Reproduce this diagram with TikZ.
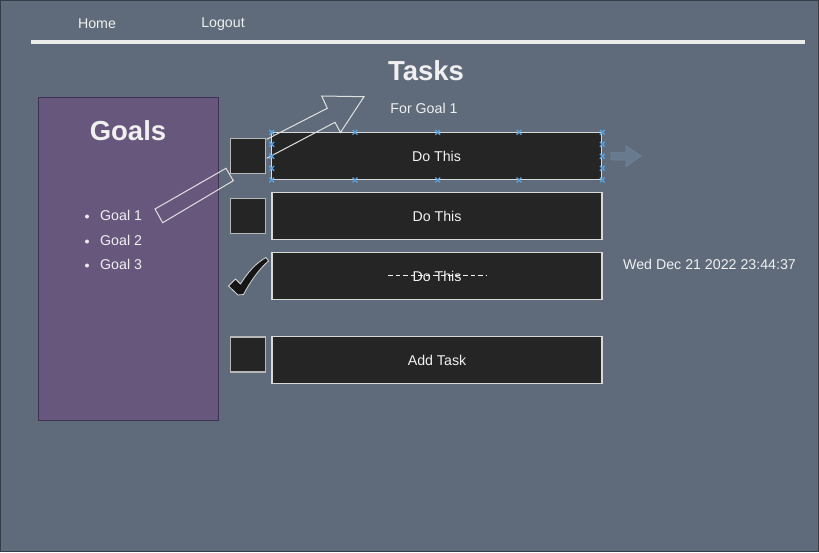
\documentclass[tikz,border=0pt]{standalone}
\usepackage{fontspec}
\setmainfont{Liberation Sans}
\begin{document}
\begin{tikzpicture}[x=1pt,y=-1pt,
  txt/.style={text=white!94!black, inner sep=0pt, font=\fontsize{14.2}{16}\selectfont},
  big/.style={text=white!94!black, inner sep=0pt, font=\fontsize{27.5}{30}\selectfont\bfseries},
  taskbar/.style={draw=white!85!black, line width=1.2pt, fill=barfill, minimum width=330pt, minimum height=47pt, inner sep=0pt, text=white!95!black, font=\fontsize{14.2}{16}\selectfont},
  chkbox/.style={draw=white!72!black, line width=1.2pt, fill=barfill, minimum width=35pt, minimum height=35pt, inner sep=0pt},
  handle/.style={draw=handleblue, line width=1.3pt},
  outl/.style={draw=white!88!black, line width=1pt, line join=miter}
]
\definecolor{bgcol}{HTML}{5F6B7A}
\definecolor{framecol}{HTML}{343D48}
\definecolor{goalfill}{HTML}{67577D}
\definecolor{goaldraw}{HTML}{3E3152}
\definecolor{barfill}{HTML}{252525}
\definecolor{checkfill}{HTML}{151515}
\definecolor{handleblue}{HTML}{5AA2E0}
\definecolor{ghostfill}{HTML}{687A8D}
\definecolor{ghostdraw}{HTML}{708296}
\useasboundingbox (0,0) rectangle (819,552);
\fill[bgcol] (0,0) rectangle (819,552);
\draw[framecol, line width=1.2pt] (0.6,0.6) rectangle (818.4,551.4);

% navigation
\node[txt] (home) at (97,24) {Home};
\node[txt] (logout) at (223,24) {Logout};
\fill[white!92!black] (31,39.5) rectangle (805,44);

% title
\node[big] (tasks) at (426,71) {Tasks};
\node[txt] (forgoal) at (424,108) {For Goal 1};

% goals panel
\node[draw=goaldraw, fill=goalfill, line width=1pt, minimum width=180pt, minimum height=323pt, inner sep=0pt, anchor=north west] (goals) at (38,97) {};
\node[big] (goalstitle) at (128,131) {Goals};
\foreach \i/\yy in {1/215,2/240,3/264}{
  \fill[white!92!black] (87,\yy+1.5) circle (2pt);
  \node[txt, anchor=west] (g\i) at (100,\yy) {Goal \i};
}

% tail of the big outlined arrow
\draw[outl] (155,209) -- (162.7,222.7) -- (233.3,180.7) -- (226,168.3) -- cycle;

% checkboxes
\node[chkbox] (c1) at (248,156) {};
\node[chkbox] (c2) at (248,216) {};
\node[chkbox] (c4) at (248,354.5) {};

% check mark
\filldraw[fill=checkfill, draw=white!85!black, line width=0.8pt, line join=round]
  (228.5,286) -- (235.5,279) -- (240.5,284) .. controls (248,272) and (256,263) .. (266,257.5)
  -- (268.5,261) .. controls (259,269) and (250,282) .. (243.5,294.5) -- (238,295) -- cycle;

% task bars
\node[taskbar] (t1) at (436.5,156) {Do This};
\node[taskbar] (t2) at (437,216) {Do This};
\node[taskbar] (t3) at (437,276) {Do This};
\node[taskbar] (t4) at (437,360) {Add Task};
\draw[white!95!black, line width=0.8pt, dash pattern=on 4.5pt off 3pt] (388,275.8) -- (486,275.8);

% big outlined arrow head and shaft (over the first bar)
\draw[outl] (266.7,139.3) -- (327.3,108.3) -- (321.7,96) -- (364,96.7) -- (340.5,132.5) -- (335,122.3) -- (266.7,158.3);

% date
\node[txt] (date) at (709.5,264) {Wed Dec 21 2022 23:44:37};

% selection handles on first bar
\foreach \hx in {271.7,355,437.7,519,602.3}{
  \foreach \hy in {132.3,180}{
    \draw[handle] (\hx-2.4,\hy-2.4) -- (\hx+2.4,\hy+2.4) (\hx-2.4,\hy+2.4) -- (\hx+2.4,\hy-2.4);
  }
}
\foreach \hx in {271.7,602.3}{
  \foreach \hy in {144.3,156.3,168.3}{
    \draw[handle] (\hx-2.4,\hy-2.4) -- (\hx+2.4,\hy+2.4) (\hx-2.4,\hy+2.4) -- (\hx+2.4,\hy-2.4);
  }
}

% ghost arrow
\filldraw[fill=ghostfill, draw=ghostdraw, line width=0.8pt]
  (611,152.3) -- (626,152.3) -- (626,146) -- (641,156) -- (626,166.5) -- (626,160) -- (611,160) -- cycle;
\end{tikzpicture}
\end{document}
